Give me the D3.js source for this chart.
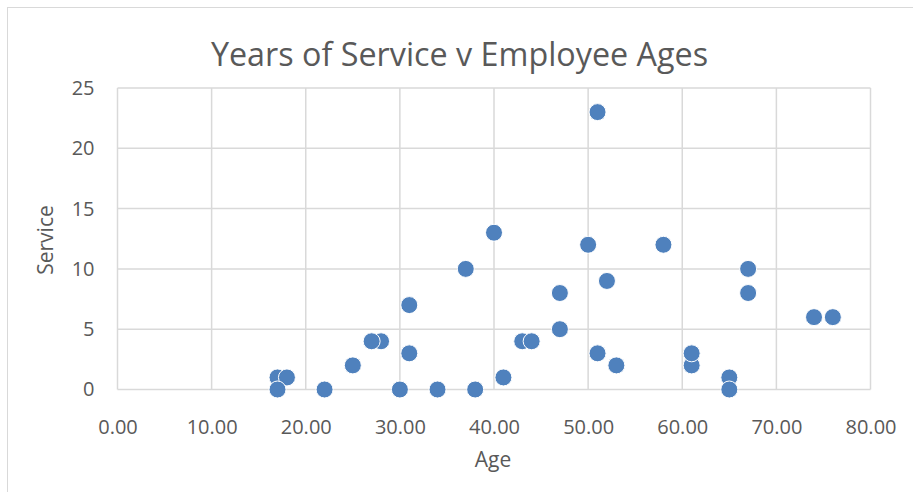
<!DOCTYPE html>
<meta charset="utf-8">
<head>
    <title>Years of Service v Employee Ages</title>
    <script src="https://d3js.org/d3.v7.min.js"></script>
    <style>
        body { margin: 0; background: #ffffff; }
        text { font-family: "Open Sans", sans-serif; fill: #595959; }
    </style>
</head>
<body>
<div id="my_dataviz"></div>
<script>

// data (age, years of service)
var ages    = [17, 18, 17, 22, 25, 28, 27, 31, 31, 30, 34, 38, 37, 40, 41,
               43, 44, 47, 47, 50, 51, 51, 52, 53, 58, 61, 61, 65, 65, 67, 67, 74, 76];
var service = [ 1,  1,  0,  0,  2,  4,  4,  7,  3,  0,  0,  0, 10, 13,  1,
                4,  4,  8,  5, 12, 23,  3,  9,  2, 12,  2,  3,  1,  0, 10,  8,  6,  6];
var xTicks = [0, 10, 20, 30, 40, 50, 60, 70, 80];
var yTicks = [0, 5, 10, 15, 20, 25];

var W = 913, H = 492;
var margin = {top: 88, right: 43, bottom: 102, left: 117.5},
    width = 870.5 - margin.left,
    height = 389.5 - margin.top;

var root = d3.select("#my_dataviz")
    .append("svg")
    .attr("width", W)
    .attr("height", H);

// chart frame
root.append("rect")
    .attr("x", 7.5).attr("y", 7.5)
    .attr("width", W).attr("height", H)
    .attr("fill", "none")
    .attr("stroke", "#d9d9d9")
    .attr("stroke-width", 1);

// title
root.append("text")
    .attr("x", 459.5).attr("y", 66)
    .attr("text-anchor", "middle")
    .style("font-size", "32.3px")
    .text("Years of Service v Employee Ages");

var svg = root.append("g")
    .attr("transform", "translate(" + margin.left + "," + margin.top + ")");

var x = d3.scaleLinear().domain([0, 80]).range([0, width]);
var y = d3.scaleLinear().domain([0, 25]).range([height, 0]);

// gridlines
svg.append("g")
    .selectAll("line.vx")
    .data(xTicks)
    .join("line")
    .attr("x1", function(d) { return x(d); })
    .attr("x2", function(d) { return x(d); })
    .attr("y1", 0).attr("y2", height)
    .attr("stroke", "#d9d9d9").attr("stroke-width", 1.5);
svg.append("g")
    .selectAll("line.hy")
    .data(yTicks)
    .join("line")
    .attr("x1", 0).attr("x2", width)
    .attr("y1", function(d) { return y(d); })
    .attr("y2", function(d) { return y(d); })
    .attr("stroke", "#d9d9d9").attr("stroke-width", 1.5);

// X axis labels
svg.append("g")
    .attr("transform", "translate(0," + height + ")")
    .call(d3.axisBottom(x).tickValues(xTicks).tickSize(0).tickPadding(30)
        .tickFormat(d3.format(".2f")))
    .call(function(g) { g.select(".domain").remove(); })
    .selectAll("text")
    .style("font-size", "20px")
    .style("font-family", "Open Sans")
    .attr("fill", "#595959");

// Y axis labels
svg.append("g")
    .call(d3.axisLeft(y).tickValues(yTicks).tickSize(0).tickPadding(23))
    .call(function(g) { g.select(".domain").remove(); })
    .selectAll("text")
    .style("font-size", "20px")
    .style("font-family", "Open Sans")
    .attr("fill", "#595959");

// axis titles
root.append("text")
    .attr("x", 493).attr("y", 467)
    .attr("text-anchor", "middle")
    .style("font-size", "21px")
    .text("Age");
root.append("text")
    .attr("transform", "translate(53,240) rotate(-90)")
    .attr("text-anchor", "middle")
    .style("font-size", "21px")
    .text("Service");

// points
svg.append("g")
    .selectAll("circle")
    .data(d3.range(ages.length))
    .join("circle")
    .attr("cx", function(i) { return x(ages[i]); })
    .attr("cy", function(i) { return y(service[i]); })
    .attr("r", 8.5)
    .attr("fill", "#4f81bd")
    .attr("stroke", "#ffffff")
    .attr("stroke-width", 1);

</script>
</body>
</html>
